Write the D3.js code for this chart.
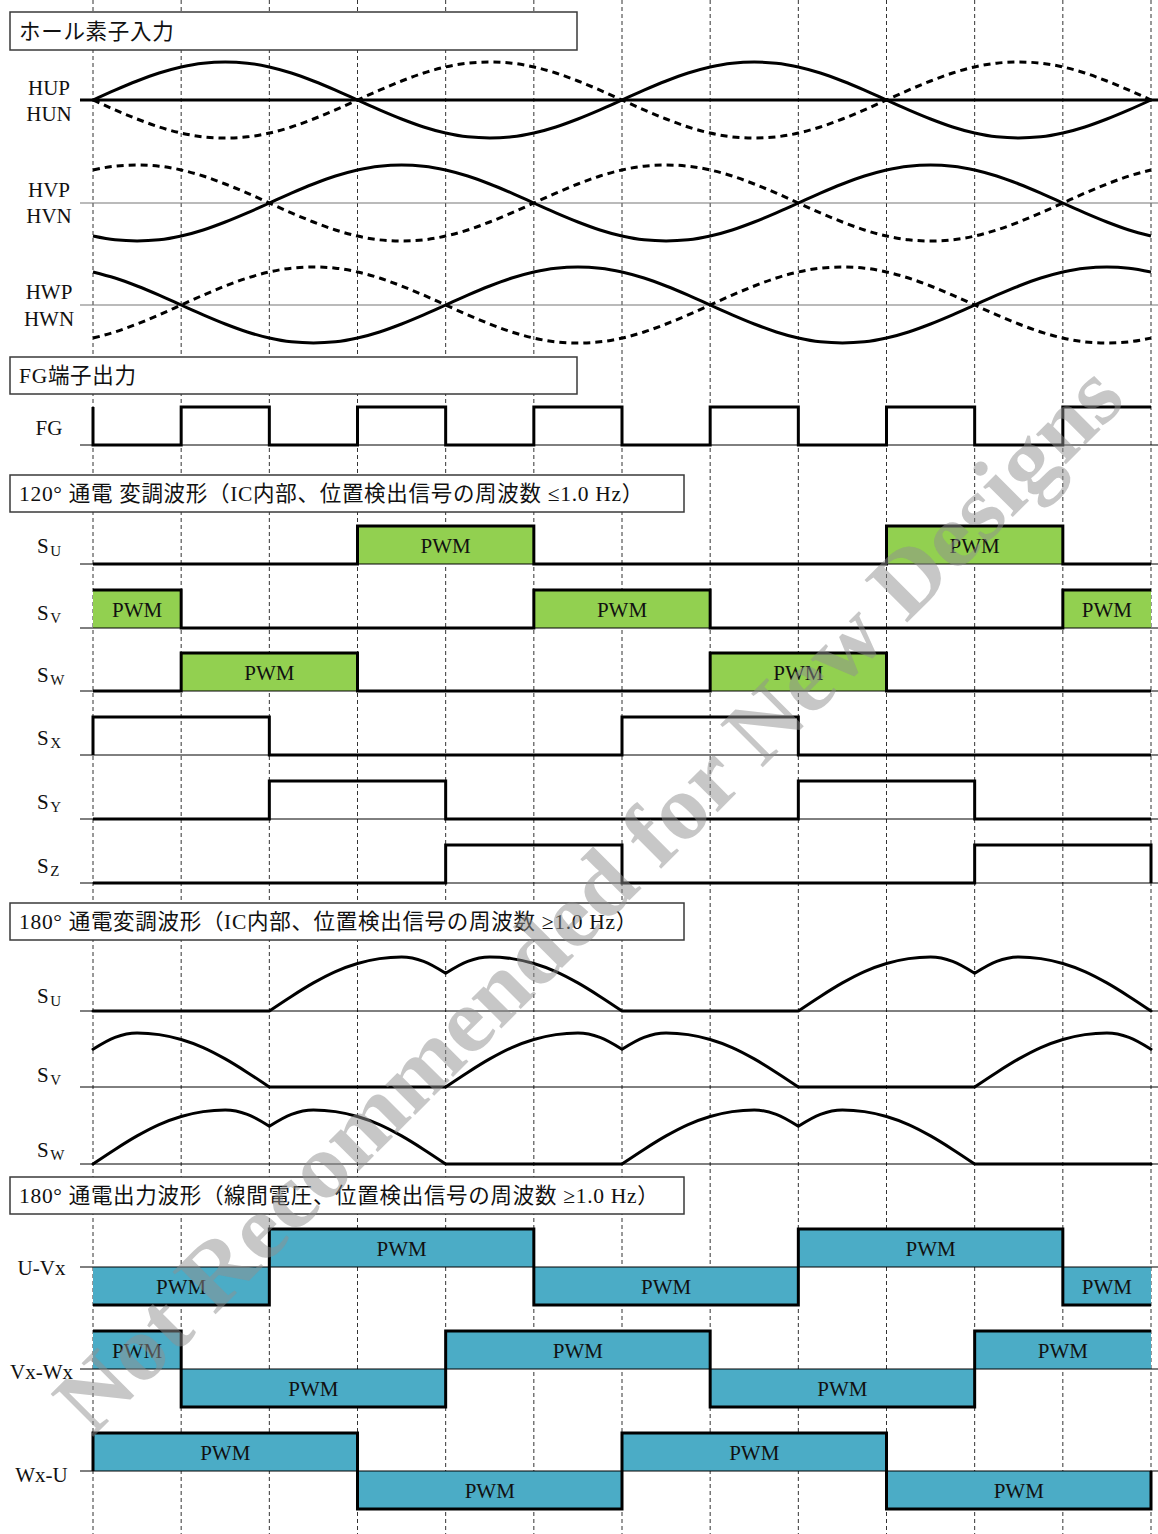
<!DOCTYPE html>
<html><head><meta charset="utf-8">
<script src="https://cdn.jsdelivr.net/npm/d3@7/dist/d3.min.js"></script>
<style>body{margin:0;background:#fff}</style>
</head><body>
<svg id="c" width="1158" height="1534"></svg>
<script>
// ---------------- data ----------------
const phaseTicks = [0,60,120,180,240,300,360,420,480,540,600,660,720]; // electrical degrees
// Hall sine read at 15° steps over one period
const hallWave = [0,0.26,0.5,0.71,0.87,0.97,1,0.97,0.87,0.71,0.5,0.26,
                  0,-0.26,-0.5,-0.71,-0.87,-0.97,-1,-0.97,-0.87,-0.71,-0.5,-0.26];
const hallNames = [["HUP","HUN"],["HVP","HVN"],["HWP","HWN"]];
const hallLag = [0,120,240];
// FG per 60° interval
const fgLevels = [0,1,0,1,0,1,0,1,0,1,0,1];
// 120° modulation per 60° interval
const s120Names = ["U","V","W","X","Y","Z"];
const s120Levels = [
  [0,0,0,1,1,0,0,0,0,1,1,0],
  [1,0,0,0,0,1,1,0,0,0,0,1],
  [0,1,1,0,0,0,0,1,1,0,0,0],
  [1,1,0,0,0,0,1,1,0,0,0,0],
  [0,0,1,1,0,0,0,0,1,1,0,0],
  [0,0,0,0,1,1,0,0,0,0,1,1]
];
const s120Pwm = [true,true,true,false,false,false];
// 180° modulation: active hump shape read at 15° steps (0..240°)
const mod180Hump = [0,0.27,0.52,0.73,0.88,0.97,1,0.92,0.7,0.92,1,0.97,0.88,0.73,0.52,0.27,0];
const mod180Names = ["U","V","W"];
const mod180Start = [120,240,0];
// 180° line-to-line outputs per 60° interval
const outNames = ["U-Vx","Vx-Wx","Wx-U"];
const outLevels = [
  [-1,-1,1,1,1,-1,-1,-1,1,1,1,-1],
  [1,-1,-1,-1,1,1,1,-1,-1,-1,1,1],
  [1,1,1,-1,-1,-1,1,1,1,-1,-1,-1]
];
const titles = [
  "ホール素子入力",
  "FG端子出力",
  "120° 通電 変調波形（IC内部、位置検出信号の周波数 ≤1.0 Hz）",
  "180° 通電変調波形（IC内部、位置検出信号の周波数 ≥1.0 Hz）",
  "180° 通電出力波形（線間電圧、位置検出信号の周波数 ≥1.0 Hz）"
];
const pwmLabel = "PWM";
const watermark = "Not Recommended for New Designs";

// ---------------- layout ----------------
const W = 1158, H = 1534;
const svg = d3.select("#c");
const x = d3.scaleLinear().domain([0,720]).range([93,1151]);
const LATIN = "'Liberation Serif','Times New Roman',serif";
const JP = "'Liberation Serif','Noto Sans CJK JP',serif";
const GREEN = "#92D050", BLUE = "#4BACC6";
const axisX0 = 80, axisX1 = 1158;

const gGrid = svg.append("g");
const gFill = svg.append("g");
const gBase = svg.append("g");
const gSig = svg.append("g");
const gText = svg.append("g");
const gBox = svg.append("g");
const gWm = svg.append("g");

// dashed grid
gGrid.selectAll("line").data(phaseTicks).join("line")
  .attr("x1", d => x(d)).attr("x2", d => x(d))
  .attr("y1", 0).attr("y2", H)
  .attr("stroke", "#333").attr("stroke-width", 1).attr("stroke-dasharray", "4,3");

// title boxes
const boxY = [[12,50],[357,394],[475,512],[903,940],[1177,1214]];
const boxX1 = [577,577,684,684,684];
titles.forEach((t,i) => {
  gBox.append("rect").attr("x", 10).attr("y", boxY[i][0])
    .attr("width", boxX1[i]-10).attr("height", boxY[i][1]-boxY[i][0])
    .attr("fill", "#fff").attr("stroke", "#3a3a3a").attr("stroke-width", 1.5);
  gBox.append("text").attr("x", 19).attr("y", (boxY[i][0]+boxY[i][1])/2 + 7.5)
    .attr("font-family", JP).attr("font-size", 21.5).attr("letter-spacing", 0.7)
    .attr("fill", "#111").text(t);
});

function baseLine(y, color, w) {
  gBase.append("line").attr("x1", axisX0).attr("x2", axisX1).attr("y1", y).attr("y2", y)
    .attr("stroke", color || "#000").attr("stroke-width", w || 1);
}
const lineGen = d3.line().x(d => x(d[0])).y(d => d[1]);
function stepPts(levels, yOf, startFrom, endTo) {
  const pts = [];
  if (startFrom !== undefined && startFrom !== null) pts.push([0, yOf(startFrom)]);
  levels.forEach((l,i) => { pts.push([phaseTicks[i], yOf(l)]); pts.push([phaseTicks[i+1], yOf(l)]); });
  if (endTo !== undefined && endTo !== null) pts.push([720, yOf(endTo)]);
  return pts;
}
function runs(levels) {
  const r = []; let s = 0;
  for (let i = 1; i <= levels.length; i++) {
    if (i === levels.length || levels[i] !== levels[s]) { r.push({a: s, b: i, v: levels[s]}); s = i; }
  }
  return r;
}
function drawSig(pts, opts) {
  gSig.append("path").attr("d", (opts && opts.curve ? d3.line().x(d => x(d[0])).y(d => d[1]).curve(opts.curve) : lineGen)(pts))
    .attr("fill", "none").attr("stroke", "#000").attr("stroke-width", 3)
    .attr("stroke-linejoin", "miter")
    .attr("stroke-dasharray", opts && opts.dash ? opts.dash : null);
}
function label(txt, cx, by, anchor) {
  gText.append("text").attr("x", cx).attr("y", by).attr("text-anchor", anchor || "middle")
    .attr("font-family", LATIN).attr("font-size", 21).attr("fill", "#111").text(txt);
}
function sLabel(sub, by) {
  const t = gText.append("text").attr("x", 37).attr("y", by)
    .attr("font-family", LATIN).attr("font-size", 21).attr("fill", "#111");
  t.append("tspan").text("S");
  t.append("tspan").attr("dx", 1.5).attr("dy", 3).attr("font-size", 15).text(sub);
}
function pwmText(cx, by) {
  gText.append("text").attr("x", cx).attr("y", by).attr("text-anchor", "middle")
    .attr("font-family", LATIN).attr("font-size", 21).attr("fill", "#111").text(pwmLabel);
}

// ---- Hall inputs ----
const hallCY = [100,203,305];
const hallLblY = [[95,121],[197,223],[299,326]];
const hallPhases = d3.range(0, 721, 15);
hallNames.forEach((nm,r) => {
  const cy = hallCY[r];
  const y = d3.scaleLinear().domain([-1,1]).range([cy+38, cy-38]);
  if (r === 0) baseLine(cy, "#000", 3); else baseLine(cy, "#777", 1.2);
  const val = p => hallWave[((((p - hallLag[r]) / 15) % 24) + 24) % 24];
  drawSig(hallPhases.map(p => [p, y(val(p))]), {curve: d3.curveMonotoneX});
  drawSig(hallPhases.map(p => [p, y(-val(p))]), {curve: d3.curveMonotoneX, dash: "7,5"});
  label(nm[0], 49, hallLblY[r][0]);
  label(nm[1], 49, hallLblY[r][1]);
});

// ---- FG ----
{
  const base = 445, high = 407;
  baseLine(base);
  drawSig(stepPts(fgLevels, l => l ? high : base, 1, null));
  label("FG", 49, 435);
}

// ---- 120° ----
const s120Base = [564,628,691,755,819,883];
const s120LblY = [553,620,682,745,809,873];
const s120Start = [null,null,null,0,null,null];
const s120End = [null,null,null,null,null,0];
s120Levels.forEach((lv,r) => {
  const base = s120Base[r], high = base - 38;
  if (s120Pwm[r]) {
    runs(lv).filter(d => d.v === 1).forEach(d => {
      gFill.append("rect").attr("x", x(phaseTicks[d.a])).attr("y", high)
        .attr("width", x(phaseTicks[d.b]) - x(phaseTicks[d.a])).attr("height", base - high)
        .attr("fill", GREEN);
      pwmText((x(phaseTicks[d.a]) + x(phaseTicks[d.b])) / 2, (high + base) / 2 + 7.5);
    });
  }
  baseLine(base);
  drawSig(stepPts(lv, l => l ? high : base, s120Start[r], s120End[r]));
  sLabel(s120Names[r], s120LblY[r]);
});

// ---- 180° modulation ----
const m180Base = [1011,1087,1164];
const m180LblY = [1003,1082,1157];
const modPhases = d3.range(0, 721, 15);
const smooth = d3.line().x(d => x(d[0])).y(d => d[1]).curve(d3.curveMonotoneX);
mod180Names.forEach((nm,r) => {
  const base = m180Base[r];
  const y = d3.scaleLinear().domain([0,1]).range([base, base - 54]);
  baseLine(base);
  const pts = modPhases.map(p => {
    const q = (((p - mod180Start[r]) % 360) + 360) % 360;
    return {p: p, q: q, pt: [p, y(q <= 240 ? mod180Hump[q / 15] : 0)]};
  });
  // split at corners (start, dip, end of each active span)
  const segs = []; let cur = [];
  pts.forEach((d,i) => {
    cur.push(d.pt);
    if (i > 0 && i < pts.length - 1 && (d.q === 0 || d.q === 120 || d.q === 240)) { segs.push(cur); cur = [d.pt]; }
  });
  segs.push(cur);
  gSig.append("path").attr("d", segs.map(s => smooth(s)).join(""))
    .attr("fill", "none").attr("stroke", "#000").attr("stroke-width", 3)
    .attr("stroke-linecap", "round").attr("stroke-linejoin", "round");
  sLabel(nm, m180LblY[r]);
});

// ---- 180° outputs ----
const outCY = [1267,1369,1471];
const outLblY = [1275,1379,1482];
const outStart = [null,null,0];
const outEnd = [null,null,0];
outLevels.forEach((lv,r) => {
  const cy = outCY[r];
  const y = d3.scaleLinear().domain([-1,1]).range([cy+38, cy-38]);
  runs(lv).forEach(d => {
    const y0 = Math.min(y(0), y(d.v)), y1 = Math.max(y(0), y(d.v));
    gFill.append("rect").attr("x", x(phaseTicks[d.a])).attr("y", y0)
      .attr("width", x(phaseTicks[d.b]) - x(phaseTicks[d.a])).attr("height", y1 - y0)
      .attr("fill", BLUE);
    pwmText((x(phaseTicks[d.a]) + x(phaseTicks[d.b])) / 2, (y0 + y1) / 2 + 7.5);
  });
  baseLine(cy);
  drawSig(stepPts(lv, y, outStart[r], outEnd[r]));
  label(outNames[r], 41.5, outLblY[r]);
});

// ---- watermark ----
gWm.append("text")
  .attr("transform", "translate(588,898) rotate(-45)")
  .attr("text-anchor", "middle").attr("dominant-baseline", "central")
  .attr("font-family", LATIN).attr("font-weight", "bold").attr("font-size", 92)
  .attr("textLength", 1465).attr("lengthAdjust", "spacingAndGlyphs")
  .attr("fill", "#909090").attr("fill-opacity", 0.5)
  .text(watermark);
</script>
</body></html>
